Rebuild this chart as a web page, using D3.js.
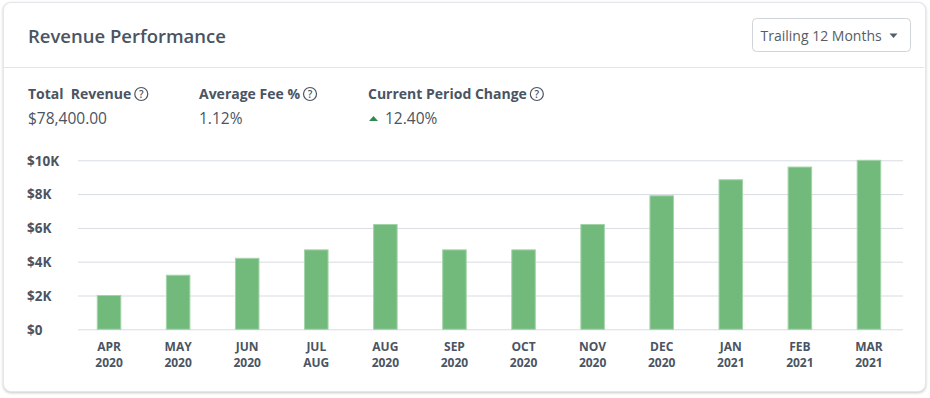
<!DOCTYPE html>
<html>
<head>
<meta charset="utf-8">
<script src="https://cdn.jsdelivr.net/npm/d3@7"></script>
<style>
  body { margin: 0; background: #fff; font-family: "Open Sans", sans-serif; }
  .card {
    position: absolute; left: 3px; top: 2px; width: 921px; height: 388px;
    border: 1px solid #e4e7eb; border-radius: 8px; background: #fff;
    box-shadow: 0 1px 3px rgba(0,0,0,.22);
  }
  svg { position: absolute; left: 0; top: 0; }
</style>
</head>
<body>
<div class="card"></div>
<svg id="chart" width="930" height="398"></svg>
<script>
// Revenue per month, trailing 12 months
const months = ["APR", "MAY", "JUN", "JUL", "AUG", "SEP", "OCT", "NOV", "DEC", "JAN", "FEB", "MAR"];
const subLabels = ["2020", "2020", "2020", "AUG", "2020", "2020", "2020", "2020", "2020", "2021", "2021", "2021"];
const revenue = [2000, 3200, 4200, 4700, 6200, 4700, 4700, 6200, 7900, 8850, 9600, 10000];
const yTicks = [0, 2000, 4000, 6000, 8000, 10000];

const stats = [
  { label: "Total  Revenue", value: "$78,400.00", x: 28 },
  { label: "Average Fee %", value: "1.12%", x: 199 },
  { label: "Current Period Change", value: "12.40%", x: 368, up: true },
];

const ink = "#4a5462";
const svg = d3.select("#chart");

// header
svg.append("text")
  .attr("x", 28).attr("y", 43)
  .attr("fill", ink).style("font-size", "18.5px").style("font-weight", 600)
  .text("Revenue Performance");

svg.append("line")
  .attr("x1", 4).attr("x2", 924).attr("y1", 67.5).attr("y2", 67.5)
  .attr("stroke", "#e1e4e8");

// dropdown
const dd = svg.append("g").attr("transform", "translate(752.5,18.5)");
dd.append("rect").attr("width", 158).attr("height", 33).attr("rx", 4)
  .attr("fill", "#fff").attr("stroke", "#cfd4da");
dd.append("text").attr("x", 8).attr("y", 22)
  .attr("fill", "#555d68").style("font-size", "14px")
  .text("Trailing 12 Months");
dd.append("path").attr("d", "M137,15 L145,15 L141,19.5 Z").attr("fill", "#555d68");

// stats
const st = svg.selectAll("g.stat").data(stats).join("g")
  .attr("class", "stat")
  .attr("transform", d => `translate(${d.x},0)`);

st.append("text")
  .attr("class", "lbl")
  .attr("y", 99)
  .attr("fill", ink).style("font-size", "14px").style("font-weight", 700)
  .style("white-space", "pre")
  .text(d => d.label);

st.each(function (d) {
  const g = d3.select(this);
  const w = g.select("text.lbl").node().getComputedTextLength();
  const help = g.append("g").attr("transform", `translate(${w + 10},94)`);
  help.append("circle").attr("r", 6.5).attr("fill", "none")
    .attr("stroke", ink).attr("stroke-width", 1.2);
  help.append("text").attr("y", 3.6).attr("text-anchor", "middle")
    .attr("fill", ink).style("font-size", "10px").style("font-weight", 600).text("?");
});

st.append("text")
  .attr("x", d => d.up ? 17 : 0).attr("y", 124)
  .attr("fill", ink).style("font-size", "15.5px")
  .text(d => d.value);

st.filter(d => d.up).append("path")
  .attr("d", "M1,121 L10,121 L5.5,116 Z").attr("fill", "#2e8b4f");

// chart
const plotL = 78, plotR = 903;
const x = d3.scaleBand()
  .domain(d3.range(months.length))
  .range([74.5, 903.5])
  .paddingInner(0.645)
  .paddingOuter(0.3225);

const y = d3.scaleLinear().domain([0, 10000]).range([329.3, 160.3]);

svg.append("g").attr("transform", `translate(${plotL},0)`)
  .call(d3.axisLeft(y).tickValues(yTicks).tickSize(-(plotR - plotL))
    .tickFormat(d => d === 0 ? "$0" : `$${d / 1000}K`))
  .call(g => g.select(".domain").remove())
  .call(g => g.selectAll("line").attr("stroke", "#d7dce3"))
  .selectAll("text")
  .attr("x", 27 - plotL).attr("dy", "0.36em")
  .attr("text-anchor", "start").attr("fill", ink)
  .style("font-family", "Open Sans").style("font-size", "13.5px").style("font-weight", 700);

svg.selectAll("rect.bar").data(revenue).join("rect")
  .attr("class", "bar")
  .attr("x", (_, i) => x(i) + 0.5)
  .attr("y", d => y(d))
  .attr("width", x.bandwidth() - 1)
  .attr("height", d => y(0) - y(d))
  .attr("fill", "#72ba7c").attr("stroke", "#a3d4a9").attr("stroke-width", 1);

const xl = svg.selectAll("text.xl").data(months).join("text")
  .attr("class", "xl")
  .attr("text-anchor", "middle")
  .attr("fill", ink).style("font-size", "12px").style("font-weight", 700);
xl.append("tspan")
  .attr("x", (_, i) => x(i) + x.bandwidth() / 2).attr("y", 351)
  .text(d => d);
xl.append("tspan")
  .attr("x", (_, i) => x(i) + x.bandwidth() / 2).attr("y", 367)
  .text((_, i) => subLabels[i]);
</script>
</body>
</html>
